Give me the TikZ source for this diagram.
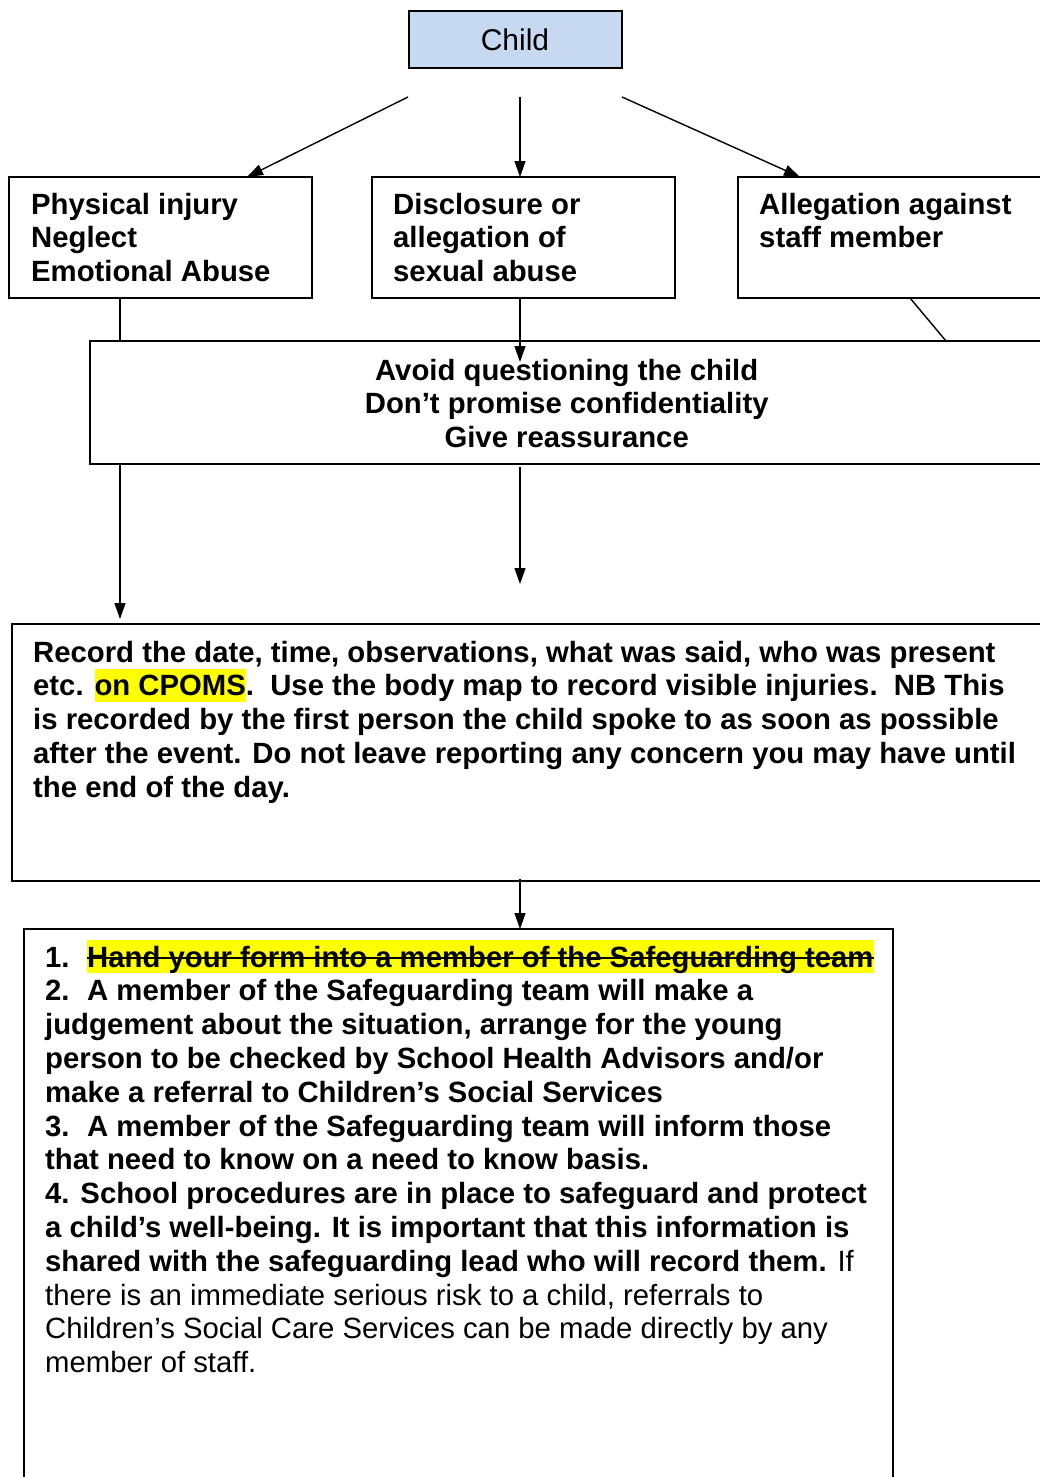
\documentclass[tikz,border=0pt]{standalone}
\usepackage{fontspec}
\setmainfont{Liberation Sans}
\usetikzlibrary{arrows.meta}
\definecolor{childblue}{HTML}{C6D9F1}
\definecolor{hlyellow}{HTML}{FFFF00}
\newcommand{\hlt}[1]{{\setlength{\fboxsep}{0pt}\colorbox{hlyellow}{\rule[-6pt]{0pt}{33pt}#1}}}
\newsavebox{\strkbox}
\newcommand{\strk}[1]{\sbox{\strkbox}{#1}\rlap{\rule[8.5pt]{\wd\strkbox}{1.6pt}}\usebox{\strkbox}}
\newcommand{\blines}[1]{\vtop{\baselineskip=33.8pt\lineskiplimit=-1000pt\lineskip=0pt #1}}
\newcommand{\numlab}[1]{\makebox[42pt][l]{#1}}
\begin{document}
\begin{tikzpicture}[x=1pt,y=-1pt,
  box/.style={draw=black, line width=1.3pt, fill=white, inner sep=0pt, outer sep=0pt, anchor=north west},
  txt/.style={inner sep=0pt, anchor=base west, font=\fontsize{29.3}{33.8}\selectfont\bfseries},
  arr/.style={line width=1.4pt, -{Triangle[length=16pt,width=11pt]}},
  con/.style={line width=1.4pt}]
\clip (0,0) rectangle (1040,1477);
\fill[white] (0,0) rectangle (1040,1477);

% Child
\node[box, fill=childblue, minimum width=213pt, minimum height=57pt] (child) at (409,11) {};
\node[inner sep=0pt, font=\fontsize{30}{34}\selectfont] (childt) at (515,40) {Child};

% first row
\node[box, minimum width=303pt, minimum height=121pt] (b1) at (9,177) {};
\node[box, minimum width=303pt, minimum height=121pt] (b2) at (372,177) {};
\node[box, minimum width=340pt, minimum height=121pt] (b3) at (738,177) {};
\node[txt] (b1t) at (31,214) {\blines{\hbox{Physical injury}\hbox{Neglect}\hbox{Emotional Abuse}}};
\node[txt] (b2t) at (393,214) {\blines{\hbox{Disclosure or}\hbox{allegation of}\hbox{sexual abuse}}};
\node[txt] (b3t) at (759,214) {\blines{\hbox{Allegation against}\hbox{staff member}}};

% arrows from child
\coordinate (c1) at (408,97);
\coordinate (c2) at (520,97);
\coordinate (c3) at (622,97);
\coordinate (t1) at (247,177);
\coordinate (t2) at (520,177);
\coordinate (t3) at (800,177);
\draw[arr] (c1) -- (t1);
\draw[arr] (c2) -- (t2);
\draw[arr] (c3) -- (t3);

% middle box
\node[box, minimum width=980pt, minimum height=123pt] (mid) at (90,341) {};
\node[txt] (midt) at (566,380) {\blines{%
  \hbox to 0pt{\hss Avoid questioning the child\hss}%
  \hbox to 0pt{\hss Don’t promise confidentiality\hss}%
  \hbox to 0pt{\hss Give reassurance\hss}}};

\draw[con] ([xshift=111pt]b1.south west) -- ([xshift=30pt]mid.north west);
\coordinate (m2) at (520,362);
\draw[arr] ([xshift=148pt]b2.south west) -- (m2);
\draw[con] ([xshift=172pt]b3.south west) -- ([xshift=856pt]mid.north west);

% record box
\node[box, minimum width=1060pt, minimum height=257pt] (rec) at (12,624) {};
\node[txt] (rect) at (33,662) {\blines{%
  \hbox{Record the date, time, observations, what was said, who was present}%
  \hbox{etc. \hlt{on CPOMS}.\ \ Use the body map to record visible injuries.\ \ NB This}%
  \hbox{is recorded by the first person the child spoke to as soon as possible}%
  \hbox{after the event. Do not leave reporting any concern you may have until}%
  \hbox{the end of the day.}}};

\coordinate (m3) at (520,584);
\draw[arr] ([xshift=430pt,yshift=-3pt]mid.south west) -- (m3);
\draw[arr, shorten >=5pt] ([xshift=30pt]mid.south west) -- ([xshift=108pt]rec.north west);

% bottom box
\node[box, minimum width=869pt, minimum height=600pt] (bot) at (24,929) {};
\draw[arr] ([xshift=508pt,yshift=2pt]rec.south west) -- ([xshift=496pt]bot.north west);
\node[txt] (bott) at (45,967) {\blines{%
  \hbox{\numlab{1.}\hlt{\strk{Hand your form into a member of the Safeguarding team}}}%
  \hbox{\numlab{2.}A member of the Safeguarding team will make a}%
  \hbox{judgement about the situation, arrange for the young}%
  \hbox{person to be checked by School Health Advisors and/or}%
  \hbox{make a referral to Children’s Social Services}%
  \hbox{\numlab{3.}A member of the Safeguarding team will inform those}%
  \hbox{that need to know on a need to know basis.}%
  \hbox{4. School procedures are in place to safeguard and protect}%
  \hbox{a child’s well-being. It is important that this information is}%
  \hbox{shared with the safeguarding lead who will record them. \mdseries If}%
  \hbox{\mdseries there is an immediate serious risk to a child, referrals to}%
  \hbox{\mdseries Children’s Social Care Services can be made directly by any}%
  \hbox{\mdseries member of staff.}}};
\end{tikzpicture}
\end{document}
